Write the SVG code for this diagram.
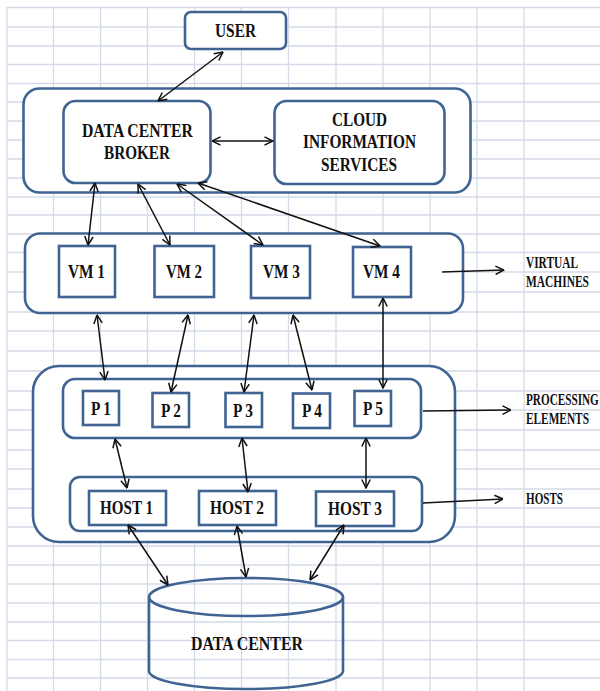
<svg xmlns="http://www.w3.org/2000/svg" width="600" height="691" viewBox="0 0 600 691">
  <style>
    .grid line { stroke: #d4dae7; stroke-width: 1.3; }
    .box { fill: #ffffff; stroke: #3f6494; stroke-width: 2.6; }
    .cyl { fill: none; stroke: #3f6494; stroke-width: 2.6; }
    .conn line { stroke: #111111; stroke-width: 1.5; fill: none; }
    .lbl { font-family: "Liberation Serif", "Times New Roman", serif; font-weight: bold; font-size: 18.5px; fill: #111111; }
    .side { font-family: "Liberation Serif", "Times New Roman", serif; font-weight: bold; font-size: 16px; fill: #111111; }
  </style>
  <defs>
    <marker id="arr" viewBox="0 0 10 10" refX="9.5" refY="5" markerWidth="10" markerHeight="10" markerUnits="userSpaceOnUse" orient="auto-start-reverse">
      <path d="M1,0.8 L9.5,5 L1,9.2" fill="none" stroke="#111111" stroke-width="1.5" stroke-linejoin="miter"/>
    </marker>
  </defs>

  <rect width="600" height="691" fill="#ffffff"/>

  <!-- spreadsheet-style background grid -->
  <g class="grid">
    <line x1="7" y1="7" x2="7" y2="691"/>
    <line x1="53.5" y1="7" x2="53.5" y2="691"/>
    <line x1="100.5" y1="7" x2="100.5" y2="691"/>
    <line x1="147.5" y1="7" x2="147.5" y2="691"/>
    <line x1="194.5" y1="7" x2="194.5" y2="691"/>
    <line x1="241.5" y1="7" x2="241.5" y2="691"/>
    <line x1="288.5" y1="7" x2="288.5" y2="691"/>
    <line x1="336" y1="7" x2="336" y2="691"/>
    <line x1="383" y1="7" x2="383" y2="691"/>
    <line x1="430" y1="7" x2="430" y2="691"/>
    <line x1="477" y1="7" x2="477" y2="691"/>
    <line x1="524" y1="7" x2="524" y2="691"/>
    <line x1="7" y1="7.5" x2="600" y2="7.5"/>
    <line x1="7" y1="27" x2="600" y2="27"/>
    <line x1="7" y1="46" x2="600" y2="46"/>
    <line x1="7" y1="64.5" x2="600" y2="64.5"/>
    <line x1="7" y1="83.5" x2="600" y2="83.5"/>
    <line x1="7" y1="102" x2="600" y2="102"/>
    <line x1="7" y1="121" x2="600" y2="121"/>
    <line x1="7" y1="140" x2="600" y2="140"/>
    <line x1="7" y1="159" x2="600" y2="159"/>
    <line x1="7" y1="178" x2="600" y2="178"/>
    <line x1="7" y1="197" x2="600" y2="197"/>
    <line x1="7" y1="215" x2="600" y2="215"/>
    <line x1="7" y1="234" x2="600" y2="234"/>
    <line x1="7" y1="252.5" x2="600" y2="252.5"/>
    <line x1="7" y1="272" x2="600" y2="272"/>
    <line x1="7" y1="292" x2="600" y2="292"/>
    <line x1="7" y1="312" x2="600" y2="312"/>
    <line x1="7" y1="331" x2="600" y2="331"/>
    <line x1="7" y1="351" x2="600" y2="351"/>
    <line x1="7" y1="371" x2="600" y2="371"/>
    <line x1="7" y1="391" x2="600" y2="391"/>
    <line x1="7" y1="410" x2="600" y2="410"/>
    <line x1="7" y1="430" x2="600" y2="430"/>
    <line x1="7" y1="450" x2="600" y2="450"/>
    <line x1="7" y1="469" x2="600" y2="469"/>
    <line x1="7" y1="489" x2="600" y2="489"/>
    <line x1="7" y1="508" x2="600" y2="508"/>
    <line x1="7" y1="527" x2="600" y2="527"/>
    <line x1="7" y1="546" x2="600" y2="546"/>
    <line x1="7" y1="565" x2="600" y2="565"/>
    <line x1="7" y1="584" x2="600" y2="584"/>
    <line x1="7" y1="603" x2="600" y2="603"/>
    <line x1="7" y1="622" x2="600" y2="622"/>
    <line x1="7" y1="640.5" x2="600" y2="640.5"/>
    <line x1="7" y1="659.5" x2="600" y2="659.5"/>
    <line x1="7" y1="678" x2="600" y2="678"/>
  </g>

  <!-- containers -->
  <g id="broker-tier"><rect class="box" x="23.5" y="88.5" width="447" height="104" rx="16"/></g>
  <g id="vm-tier"><rect class="box" x="25" y="233.5" width="438" height="79.5" rx="15"/></g>
  <g id="host-tier"><rect class="box" x="33" y="366" width="422" height="176" rx="26"/></g>
  <g id="pe-group"><rect class="box" x="63" y="379" width="358" height="59" rx="12"/></g>
  <g id="host-group"><rect class="box" x="70" y="477" width="352" height="54" rx="10"/></g>

  <!-- nodes -->
  <g id="user">
    <rect class="box" x="185" y="12" width="101" height="37" rx="6"/>
    <text class="lbl" x="215" y="36.5" textLength="41" lengthAdjust="spacingAndGlyphs">USER</text>
  </g>
  <g id="broker">
    <rect class="box" x="63.5" y="101" width="147" height="82" rx="12"/>
    <text class="lbl" x="82" y="137" textLength="111" lengthAdjust="spacingAndGlyphs">DATA CENTER</text>
    <text class="lbl" x="104" y="159" textLength="66" lengthAdjust="spacingAndGlyphs">BROKER</text>
  </g>
  <g id="cis">
    <rect class="box" x="274.5" y="101" width="170" height="83" rx="12"/>
    <text class="lbl" x="332" y="126" textLength="55" lengthAdjust="spacingAndGlyphs">CLOUD</text>
    <text class="lbl" x="303" y="148" textLength="113" lengthAdjust="spacingAndGlyphs">INFORMATION</text>
    <text class="lbl" x="321" y="171" textLength="76" lengthAdjust="spacingAndGlyphs">SERVICES</text>
  </g>
  <g id="vm1">
    <rect class="box" x="59" y="246" width="56" height="51"/>
    <text class="lbl" x="68" y="278" textLength="37" lengthAdjust="spacingAndGlyphs">VM 1</text>
  </g>
  <g id="vm2">
    <rect class="box" x="154.5" y="246" width="59.5" height="51"/>
    <text class="lbl" x="166" y="278" textLength="36" lengthAdjust="spacingAndGlyphs">VM 2</text>
  </g>
  <g id="vm3">
    <rect class="box" x="251" y="246" width="59" height="52"/>
    <text class="lbl" x="263" y="278" textLength="37" lengthAdjust="spacingAndGlyphs">VM 3</text>
  </g>
  <g id="vm4">
    <rect class="box" x="353" y="247" width="58" height="50"/>
    <text class="lbl" x="363" y="278" textLength="37" lengthAdjust="spacingAndGlyphs">VM 4</text>
  </g>
  <g id="p1">
    <rect class="box" x="83" y="391" width="36" height="34"/>
    <text class="lbl" x="91" y="415" textLength="20" lengthAdjust="spacingAndGlyphs">P 1</text>
  </g>
  <g id="p2">
    <rect class="box" x="152.5" y="393" width="36.5" height="34"/>
    <text class="lbl" x="161" y="417" textLength="20" lengthAdjust="spacingAndGlyphs">P 2</text>
  </g>
  <g id="p3">
    <rect class="box" x="225.5" y="393" width="36.5" height="34"/>
    <text class="lbl" x="233" y="417" textLength="20" lengthAdjust="spacingAndGlyphs">P 3</text>
  </g>
  <g id="p4">
    <rect class="box" x="293" y="393.5" width="37" height="34.5"/>
    <text class="lbl" x="302" y="417" textLength="20" lengthAdjust="spacingAndGlyphs">P 4</text>
  </g>
  <g id="p5">
    <rect class="box" x="354.5" y="391" width="36.5" height="35"/>
    <text class="lbl" x="363" y="415" textLength="20" lengthAdjust="spacingAndGlyphs">P 5</text>
  </g>
  <g id="host1">
    <rect class="box" x="89" y="491" width="77" height="34"/>
    <text class="lbl" x="100" y="514" textLength="53" lengthAdjust="spacingAndGlyphs">HOST 1</text>
  </g>
  <g id="host2">
    <rect class="box" x="199" y="491" width="77" height="34"/>
    <text class="lbl" x="210" y="514" textLength="54" lengthAdjust="spacingAndGlyphs">HOST 2</text>
  </g>
  <g id="host3">
    <rect class="box" x="316" y="491.5" width="78" height="34.5"/>
    <text class="lbl" x="328" y="515" textLength="54" lengthAdjust="spacingAndGlyphs">HOST 3</text>
  </g>
  <g id="datacenter">
    <path class="cyl" d="M149,597 L149,671 A97,18 0 0 0 343,671 L343,597"/>
    <ellipse class="cyl" cx="246" cy="597" rx="97" ry="19"/>
    <text class="lbl" x="191" y="650" textLength="112" lengthAdjust="spacingAndGlyphs">DATA CENTER</text>
  </g>

  <!-- side captions, horizontally condensed -->
  <g id="captions">
    <text class="side" transform="translate(526,268) scale(0.71,1)" textLength="73.2" lengthAdjust="spacingAndGlyphs">VIRTUAL</text>
    <text class="side" transform="translate(526,287) scale(0.71,1)" textLength="88.7" lengthAdjust="spacingAndGlyphs">MACHINES</text>
    <text class="side" transform="translate(526,405) scale(0.71,1)" textLength="102.5" lengthAdjust="spacingAndGlyphs">PROCESSING</text>
    <text class="side" transform="translate(526,424) scale(0.71,1)" textLength="88.7" lengthAdjust="spacingAndGlyphs">ELEMENTS</text>
    <text class="side" transform="translate(526,504) scale(0.71,1)" textLength="52.1" lengthAdjust="spacingAndGlyphs">HOSTS</text>
  </g>

  <!-- connectors -->
  <g class="conn">
    <line x1="223" y1="52" x2="158" y2="101" marker-start="url(#arr)" marker-end="url(#arr)"/>
    <line x1="212" y1="141" x2="273" y2="141" marker-start="url(#arr)" marker-end="url(#arr)"/>
    <line x1="95" y1="183" x2="88" y2="245" marker-start="url(#arr)" marker-end="url(#arr)"/>
    <line x1="138" y1="184" x2="170" y2="245" marker-start="url(#arr)" marker-end="url(#arr)"/>
    <line x1="177" y1="184" x2="263" y2="245" marker-start="url(#arr)" marker-end="url(#arr)"/>
    <line x1="198" y1="183" x2="380" y2="246" marker-start="url(#arr)" marker-end="url(#arr)"/>
    <line x1="442" y1="272" x2="504" y2="270" marker-end="url(#arr)"/>
    <line x1="97" y1="315" x2="105" y2="380" marker-start="url(#arr)" marker-end="url(#arr)"/>
    <line x1="188" y1="315" x2="171" y2="392" marker-start="url(#arr)" marker-end="url(#arr)"/>
    <line x1="254" y1="315" x2="244" y2="392" marker-start="url(#arr)" marker-end="url(#arr)"/>
    <line x1="293" y1="315" x2="312" y2="390" marker-start="url(#arr)" marker-end="url(#arr)"/>
    <line x1="383" y1="298" x2="383" y2="388" marker-start="url(#arr)" marker-end="url(#arr)"/>
    <line x1="423" y1="411" x2="511" y2="410" marker-end="url(#arr)"/>
    <line x1="115" y1="439" x2="127" y2="488" marker-start="url(#arr)" marker-end="url(#arr)"/>
    <line x1="242" y1="438" x2="248" y2="492" marker-start="url(#arr)" marker-end="url(#arr)"/>
    <line x1="366" y1="438" x2="366" y2="488" marker-start="url(#arr)" marker-end="url(#arr)"/>
    <line x1="423" y1="503" x2="503" y2="499" marker-end="url(#arr)"/>
    <line x1="128" y1="525" x2="168" y2="585" marker-start="url(#arr)" marker-end="url(#arr)"/>
    <line x1="237" y1="526" x2="246" y2="577" marker-start="url(#arr)" marker-end="url(#arr)"/>
    <line x1="344" y1="525" x2="310" y2="580" marker-start="url(#arr)" marker-end="url(#arr)"/>
  </g>
</svg>
